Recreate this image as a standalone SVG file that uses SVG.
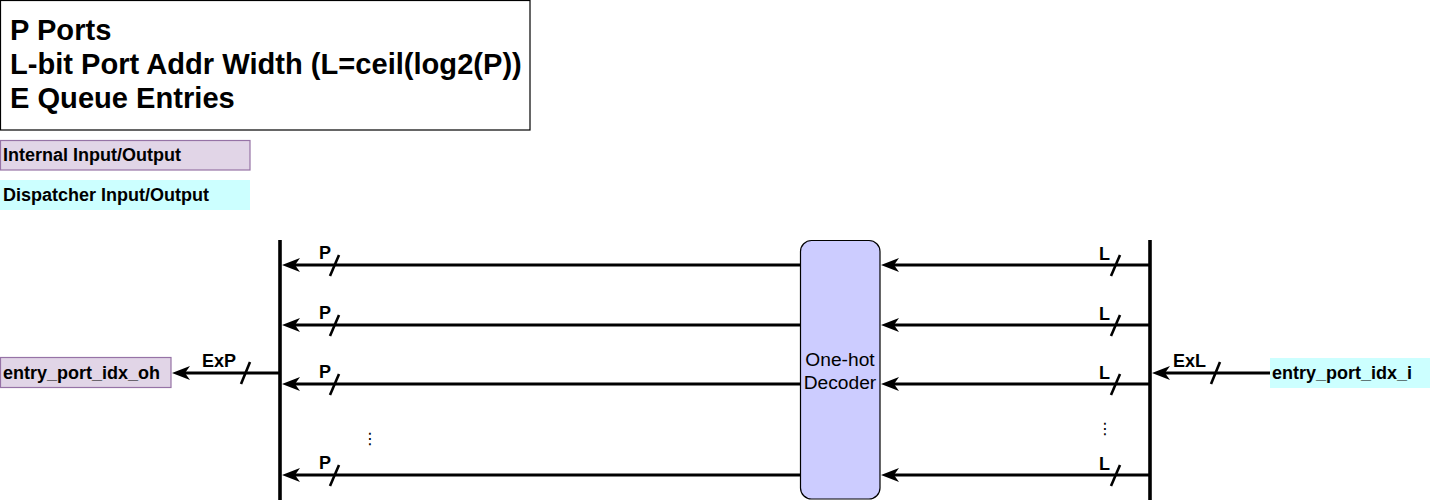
<svg xmlns="http://www.w3.org/2000/svg" width="1431" height="504" viewBox="0 0 1431 504">
<style>
.t{font-family:"Liberation Sans",Arial,sans-serif;fill:#000}
.title{font-size:29.1px;font-weight:bold}
.lg{font-size:18px;font-weight:bold}
.lbl{font-size:18px;font-weight:bold}
.dec{font-size:19.2px}
.w{stroke:#000;stroke-width:3;fill:none}
.bus{stroke:#000;stroke-width:3.6;fill:none}
.sl{stroke:#000;stroke-width:2.6;fill:none}
.dots{font-family:"DejaVu Sans",sans-serif;font-size:16px;fill:#000}
</style>
<defs>
<marker id="ah" viewBox="0 0 18 14" refX="13" refY="7" markerWidth="18" markerHeight="14" markerUnits="userSpaceOnUse" orient="auto">
<path d="M0,0 L18,7 L0,14 L5,7 Z" fill="#000"/>
</marker>
</defs>

<g id="title">
<rect x="0.5" y="0.5" width="529.5" height="129.5" fill="#fff" stroke="#000" stroke-width="1.2"/>
<text class="t title" x="10" y="40">P Ports</text>
<text class="t title" x="10" y="74">L-bit Port Addr Width (L=ceil(log2(P))</text>
<text class="t title" x="10" y="108">E Queue Entries</text>
</g>

<g id="legend-internal">
<rect x="0.5" y="140.5" width="249.5" height="29.5" fill="#e1d5e7" stroke="#9673a6" stroke-width="1.2"/>
<text class="t lg" x="3" y="161">Internal Input/Output</text>
</g>
<g id="legend-dispatcher">
<rect x="0" y="180" width="250" height="30" fill="#ccffff"/>
<text class="t lg" x="3" y="201">Dispatcher Input/Output</text>
</g>

<g id="entry_port_idx_oh">
<rect x="0.5" y="357.5" width="170.5" height="30" fill="#e1d5e7" stroke="#9673a6" stroke-width="1.2"/>
<text class="t lg" x="3" y="378.5">entry_port_idx_oh</text>
</g>

<g id="entry_port_idx_i">
<rect x="1270" y="358" width="160" height="30" fill="#ccffff"/>
<text class="t lg" x="1272" y="378.5">entry_port_idx_i</text>
</g>

<g id="decoder">
<rect x="800.5" y="240.5" width="79.5" height="258.5" rx="11" ry="11" fill="#ccccff" stroke="#000" stroke-width="1.2"/>
<text class="t dec" x="840" y="366" text-anchor="middle">One-hot</text>
<text class="t dec" x="840" y="389" text-anchor="middle">Decoder</text>
</g>

<g id="left-bus">
<line class="bus" x1="280" y1="240" x2="280" y2="500"/>
</g>
<g id="right-bus">
<line class="bus" x1="1150" y1="240" x2="1150" y2="500"/>
</g>

<g id="connectors">
<line class="w" x1="800" y1="265" x2="287" y2="265" marker-end="url(#ah)"/>
<line class="w" x1="800" y1="325" x2="287" y2="325" marker-end="url(#ah)"/>
<line class="w" x1="800" y1="384" x2="287" y2="384" marker-end="url(#ah)"/>
<line class="w" x1="800" y1="475" x2="287" y2="475" marker-end="url(#ah)"/>
<line class="w" x1="1150" y1="265" x2="886" y2="265" marker-end="url(#ah)"/>
<line class="w" x1="1150" y1="325" x2="886" y2="325" marker-end="url(#ah)"/>
<line class="w" x1="1150" y1="384" x2="886" y2="384" marker-end="url(#ah)"/>
<line class="w" x1="1150" y1="475" x2="886" y2="475" marker-end="url(#ah)"/>
<line class="w" x1="280" y1="373" x2="177" y2="373" marker-end="url(#ah)"/>
<line class="w" x1="1270" y1="373" x2="1157" y2="373" marker-end="url(#ah)"/>

<line class="sl" x1="339" y1="255" x2="330" y2="276"/>
<line class="sl" x1="339" y1="315" x2="330" y2="336"/>
<line class="sl" x1="339" y1="374" x2="330" y2="395"/>
<line class="sl" x1="339" y1="465" x2="330" y2="486"/>
<line class="sl" x1="1120" y1="255" x2="1111" y2="276"/>
<line class="sl" x1="1120" y1="315" x2="1111" y2="336"/>
<line class="sl" x1="1120" y1="374" x2="1111" y2="395"/>
<line class="sl" x1="1120" y1="465" x2="1111" y2="486"/>
<line class="sl" x1="250" y1="362" x2="241" y2="384"/>
<line class="sl" x1="1220" y1="362" x2="1211" y2="384"/>

<text class="t lbl" x="319" y="259">P</text>
<text class="t lbl" x="319" y="319">P</text>
<text class="t lbl" x="319" y="378">P</text>
<text class="t lbl" x="319" y="469">P</text>
<text class="t lbl" x="1099" y="260">L</text>
<text class="t lbl" x="1099" y="320">L</text>
<text class="t lbl" x="1099" y="379">L</text>
<text class="t lbl" x="1099" y="470">L</text>
<text class="t lbl" x="202" y="367">ExP</text>
<text class="t lbl" x="1173" y="367">ExL</text>

<text class="dots" x="370" y="444" text-anchor="middle">⋮</text>
<text class="dots" x="1105" y="434" text-anchor="middle">⋮</text>
</g>
</svg>
